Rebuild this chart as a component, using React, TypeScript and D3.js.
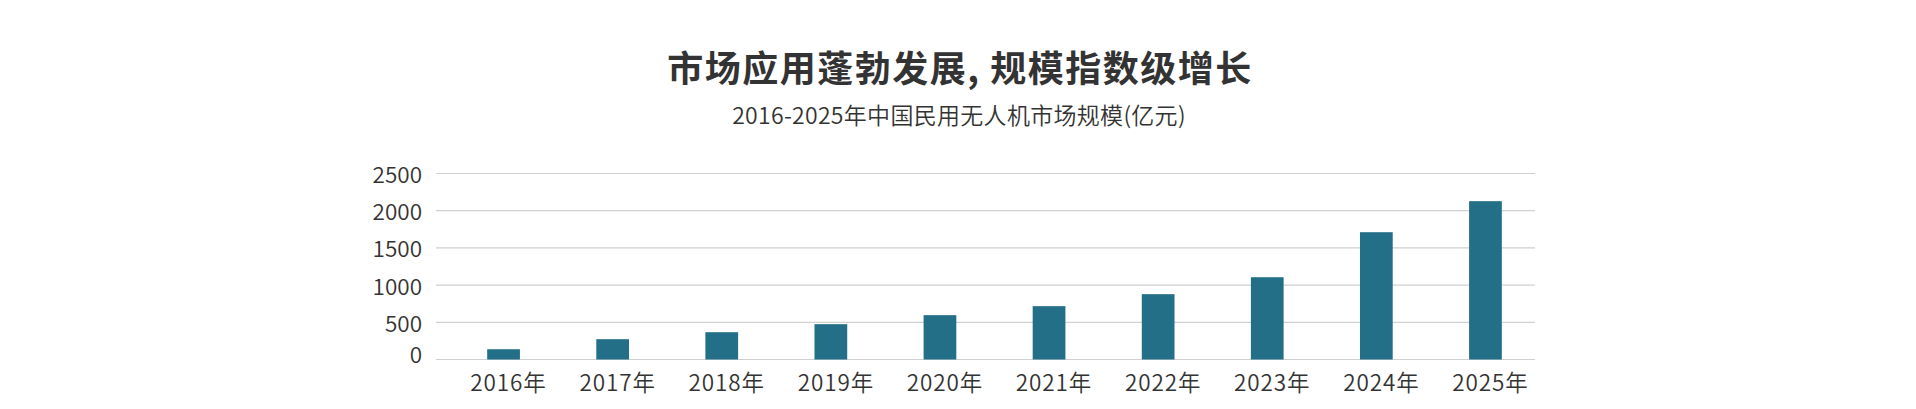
import React from "react";
import * as d3 from "d3";

const TITLE = "市场应用蓬勃发展, 规模指数级增长";
const SUBTITLE = "2016-2025年中国民用无人机市场规模(亿元)";
const categories = ["2016年", "2017年", "2018年", "2019年", "2020年", "2021年", "2022年", "2023年", "2024年", "2025年"];
const values = [138, 273, 367, 475, 596, 717, 878, 1106, 1711, 2128];
const yTicks = [0, 500, 1000, 1500, 2000, 2500];

const W = 1916;
const H = 409;
const FONT = "'Noto Sans CJK SC', 'Noto Sans', sans-serif";

export default function App() {
  const x = d3.scaleBand<string>().domain(categories).range([449, 1540]).paddingInner(0.7).paddingOuter(0.35);
  const y = d3.scaleLinear().domain([0, 2500]).range([359.5, 173.5]);
  const gridX0 = 436;
  const gridX1 = 1535;

  return (
    <svg width={W} height={H} style={{ position: "absolute", left: 0, top: 0, display: "block", background: "#fff" }}>
      <text x={960} y={82} textAnchor="middle" fontFamily={FONT} fontWeight={700} fontSize={36} letterSpacing={1.5} fill="#333">
        {TITLE}
      </text>
      <text x={959} y={124} textAnchor="middle" fontFamily={FONT} fontWeight={350} fontSize={23} letterSpacing={0.3} fill="#333">
        {SUBTITLE}
      </text>
      {yTicks.map((t) => (
        <g key={t}>
          <line x1={gridX0} x2={gridX1} y1={y(t)} y2={y(t)} stroke="#d0d0d0" strokeWidth={1.2} />
          <text x={422} y={y(t) + (t === 0 ? 3 : 9.5)} textAnchor="end" fontFamily={FONT} fontWeight={350} fontSize={22.5} fill="#333">
            {t}
          </text>
        </g>
      ))}
      {categories.map((c, i) => (
        <rect key={c} x={x(c)} y={y(values[i])} width={x.bandwidth()} height={y(0) - y(values[i])} fill="#236F87" />
      ))}
      {categories.map((c) => (
        <text key={c} x={(x(c) as number) + x.bandwidth() / 2 + 5} y={391} textAnchor="middle" fontFamily={FONT} fontWeight={350} fontSize={22.5} letterSpacing={0.9} fill="#333">
          {c}
        </text>
      ))}
    </svg>
  );
}
